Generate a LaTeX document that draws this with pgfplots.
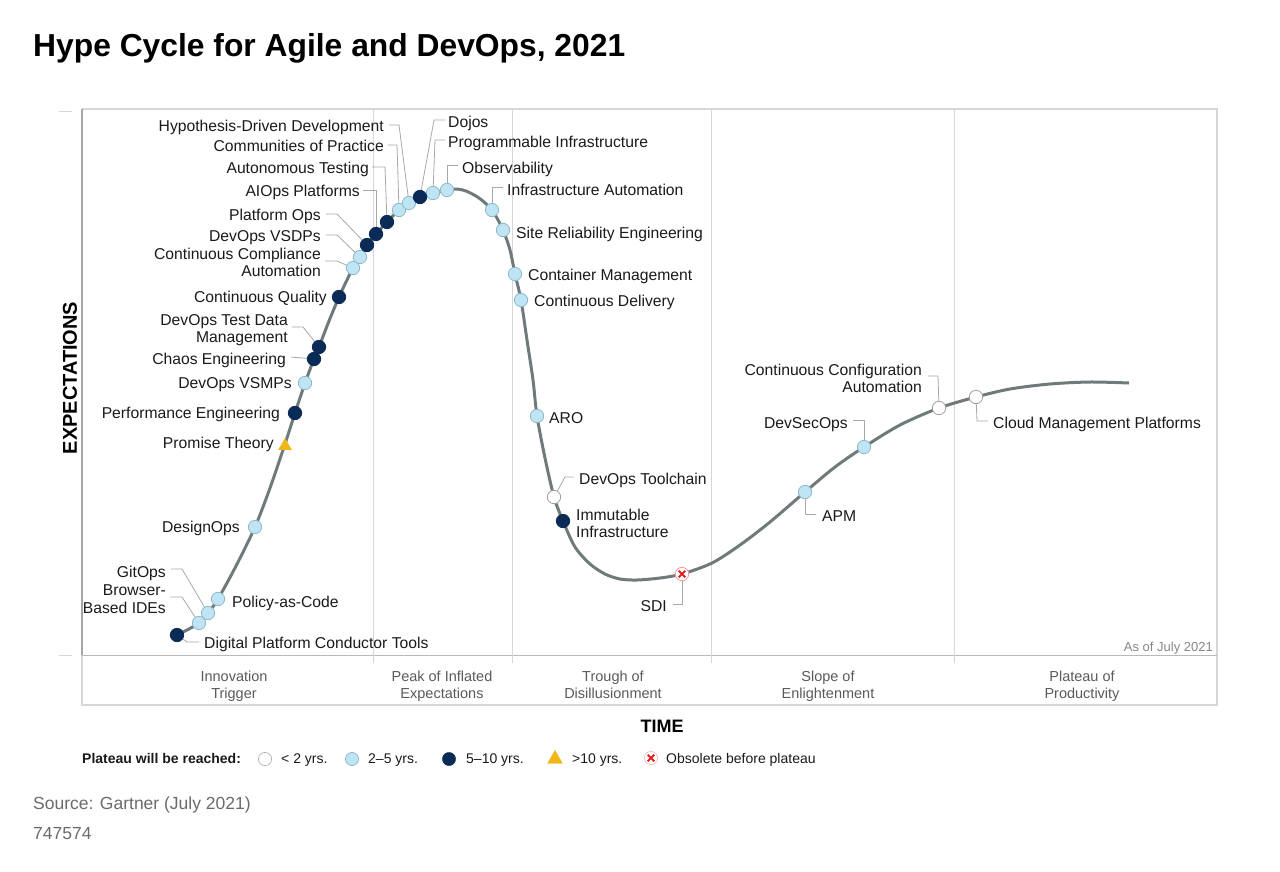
\documentclass[border=0pt]{standalone}
\usepackage{pgfplots}
\pgfplotsset{compat=1.18}
\usepackage{fontspec}
\setmainfont{Liberation Sans}
\definecolor{curvec}{HTML}{6F7B7A}
\definecolor{lightm}{HTML}{BFE4F3}
\definecolor{lightd}{HTML}{8FB9CB}
\definecolor{darkm}{HTML}{0B2B57}
\definecolor{leaderc}{HTML}{A8A8A8}
\definecolor{txt}{HTML}{1A1A1A}
\definecolor{phasec}{HTML}{5A5A5A}
\definecolor{framec}{HTML}{D6D6D6}
\definecolor{gold}{HTML}{F2B619}
\definecolor{redx}{HTML}{E42320}
\definecolor{srcc}{HTML}{6B6B6B}
\newcommand{\lbl}{\fontsize{15.7}{17}\selectfont}
\tikzset{
  lR/.style={anchor=base east, inner sep=0pt, font=\lbl, text=txt},
  lL/.style={anchor=base west, inner sep=0pt, font=\lbl, text=txt},
  ph/.style={anchor=base, inner sep=0pt, font=\fontsize{14.5}{16}\selectfont, text=phasec},
  ld/.style={leaderc, line width=0.8pt},
  lg/.style={anchor=base west, inner sep=0pt, font=\fontsize{14}{16}\selectfont, text=txt},
}
\begin{document}
\begin{tikzpicture}
\begin{axis}[
  scale only axis, width=1280pt, height=871pt,
  xmin=0, xmax=1280, ymin=0, ymax=871, y dir=reverse,
  hide axis, clip=false,
]
% frame
\draw[framec, line width=1.2pt] (82,109) -- (1217,109) -- (1217,705) -- (82,705) -- (82,655);
\draw[gray!70, line width=1.8pt] (82,109) -- (82,655);
\draw[gray!55, line width=1pt] (82,655) -- (1217,655);
\draw[framec, line width=1pt] (59,111) -- (72,111);
\draw[framec, line width=1pt] (59,655) -- (72,655);
\draw[framec, line width=1pt] (373,109) -- (373,663);
\draw[framec, line width=1pt] (512,109) -- (512,663);
\draw[framec, line width=1pt] (711,109) -- (711,663);
\draw[framec, line width=1pt] (954,109) -- (954,663);
% phase labels
\node[ph] at (234,681) {Innovation};
\node[ph] at (234,698) {Trigger};
\node[ph] at (442,681) {Peak of Inflated};
\node[ph] at (442,698) {Expectations};
\node[ph] at (613,681) {Trough of};
\node[ph] at (613,698) {Disillusionment};
\node[ph] at (828,681) {Slope of};
\node[ph] at (828,698) {Enlightenment};
\node[ph] at (1082,681) {Plateau of};
\node[ph] at (1082,698) {Productivity};
\node[anchor=base east, inner sep=0pt, font=\fontsize{13}{15}\selectfont, text=gray!95] at (1213,651) {As of July 2021};
% leaders
\draw[ld] (389,125) -- (399,125) -- (409,203);
\draw[ld] (388,145) -- (397,145) -- (399,210);
\draw[ld] (372,167) -- (385,167) -- (387,222);
\draw[ld] (363,190) -- (376,190) -- (376,234);
\draw[ld] (326,214) -- (337,214) -- (367,245);
\draw[ld] (326,235) -- (337,235) -- (360,257);
\draw[ld] (325,261) -- (337,261) -- (353,268);
\draw[ld] (292,327) -- (303,327) -- (319,347);
\draw[ld] (291,357) -- (314,359);
\draw[ld] (171,569) -- (182,569) -- (208,613);
\draw[ld] (170,597) -- (182,597) -- (199,623);
\draw[ld] (177,635) -- (187,642) -- (199,642);
\draw[ld] (445,120) -- (434,120) -- (420,197);
\draw[ld] (445,140) -- (435,140) -- (433,193);
\draw[ld] (458,165) -- (447,165) -- (447,190);
\draw[ld] (503,187) -- (492,187) -- (492,210);
\draw[ld] (574,477) -- (565,477) -- (554,497);
\draw[ld] (673,604) -- (682,604) -- (682,574);
\draw[ld] (805,492) -- (805,514) -- (816,514);
\draw[ld] (853,420) -- (864,420) -- (864,447);
\draw[ld] (928,376) -- (938,376) -- (939,408);
\draw[ld] (976,397) -- (977,421) -- (988,421);
% curve
\addplot[curvec, line width=3pt, smooth, tension=0.5] coordinates {
(176,635)(187,630)(199,623)(208,613)(218,599)(236,566)(255,527)(270,488)(285,444)(295,413)(305,383)(314,359)(319,347)(329,321)(339,297)(346,282)(353,268)(360,257)(367,245)(376,234)(387,222)(399,210)(409,203)(420,197)(433,193)(447,190)(456,189)(466,191)(479,198)(492,210)(503,230)(510,250)(515,274)(521,300)(527,340)(533,380)(537,416)(545,458)(554,497)(563,521)(575,547)(590,564)(605,574)(620,579)(637,580)(660,578)(682,574)(712,563)(740,545)(770,522)(805,492)(835,467)(864,447)(900,425)(939,408)(976,397)(1010,389)(1050,384)(1090,382)(1129,383)};
% markers: < 2 yrs
\addplot[only marks, mark=*, mark size=6.7pt, mark options={fill=white, draw=gray!75, line width=0.8pt}] coordinates {(554,497)(939,408)(976,397)};
% 2-5 yrs
\addplot[only marks, mark=*, mark size=6.7pt, mark options={fill=lightm, draw=lightd, line width=0.8pt}] coordinates {
(199,623)(208,613)(218,599)(255,527)(305,383)(353,268)(360,257)(399,210)(409,203)(433,193)(447,190)(492,210)(503,230)(515,274)(521,300)(537,416)(805,492)(864,447)};
% 5-10 yrs
\addplot[only marks, mark=*, mark size=6.7pt, mark options={fill=darkm, draw=darkm, line width=0.8pt}] coordinates {
(177,635)(295,413)(314,359)(319,347)(339,297)(367,245)(376,234)(387,222)(420,197)(563,521)};
% >10 yrs
\addplot[only marks, mark=triangle*, mark size=7.5pt, mark options={fill=gold, draw=gold}] coordinates {(285,446)};
% obsolete
\addplot[only marks, mark=*, mark size=6.7pt, mark options={fill=white, draw=redx!45, line width=0.8pt}] coordinates {(682,574)};
\addplot[only marks, mark=x, mark size=4.6pt, mark options={draw=redx, line width=1.8pt}] coordinates {(682,574)};
% labels
\node[lR] at (384,131.5) {Hypothesis-Driven Development};
\node[lR] at (384,151.5) {Communities of Practice};
\node[lR] at (369,173.5) {Autonomous Testing};
\node[lR] at (360,196.5) {AIOps Platforms};
\node[lR] at (321,220.5) {Platform Ops};
\node[lR] at (321,241.5) {DevOps VSDPs};
\node[lR] at (321,259.5) {Continuous Compliance};
\node[lR] at (321,276.5) {Automation};
\node[lR] at (327,302.5) {Continuous Quality};
\node[lR] at (288,325.5) {DevOps Test Data};
\node[lR] at (288,342.5) {Management};
\node[lR] at (286,364.5) {Chaos Engineering};
\node[lR] at (292,388.5) {DevOps VSMPs};
\node[lR] at (280,418.5) {Performance Engineering};
\node[lR] at (274,448.5) {Promise Theory};
\node[lR] at (240,532.5) {DesignOps};
\node[lR] at (166,577.5) {GitOps};
\node[lR] at (166,595.5) {Browser-};
\node[lR] at (166,613.5) {Based IDEs};
\node[lR] at (667,611.5) {SDI};
\node[lR] at (848,428.5) {DevSecOps};
\node[lR] at (922,375.5) {Continuous Configuration};
\node[lR] at (922,392.5) {Automation};
\node[lL] at (448,127.5) {Dojos};
\node[lL] at (448,147.5) {Programmable Infrastructure};
\node[lL] at (462,173.5) {Observability};
\node[lL] at (507,195.5) {Infrastructure Automation};
\node[lL] at (516,238.5) {Site Reliability Engineering};
\node[lL] at (528,280.5) {Container Management};
\node[lL] at (534,306.5) {Continuous Delivery};
\node[lL] at (549,423.5) {ARO};
\node[lL] at (579,484.5) {DevOps Toolchain};
\node[lL] at (576,520.5) {Immutable};
\node[lL] at (576,537.5) {Infrastructure};
\node[lL] at (232,607.5) {Policy-as-Code};
\node[lL] at (204,648.5) {Digital Platform Conductor Tools};
\node[lL] at (822,521.5) {APM};
\node[lL] at (993,428.5) {Cloud Management Platforms};
% axis titles
\node[rotate=90, font=\bfseries\fontsize{20}{22}\selectfont, text=black, inner sep=0pt] at (70,378) {EXPECTATIONS};
\node[font=\bfseries\fontsize{18}{20}\selectfont, text=black, inner sep=0pt] at (662,726) {TIME};
% title
\node[anchor=base west, inner sep=0pt, font=\bfseries\fontsize{31.8}{34}\selectfont, text=black] at (33,56) {Hype Cycle for Agile and DevOps, 2021};
% legend
\node[lg, font=\bfseries\fontsize{14}{16}\selectfont] at (82,763) {Plateau will be reached:};
\addplot[only marks, mark=*, mark size=6.6pt, mark options={fill=white, draw=gray!60, line width=0.7pt}] coordinates {(265,759)};
\node[lg] at (281,763) {< 2 yrs.};
\addplot[only marks, mark=*, mark size=6.6pt, mark options={fill=lightm, draw=lightd, line width=0.7pt}] coordinates {(352,759)};
\node[lg] at (368,763) {2–5 yrs.};
\addplot[only marks, mark=*, mark size=6.6pt, mark options={fill=darkm, draw=darkm}] coordinates {(449,759)};
\node[lg] at (466,763) {5–10 yrs.};
\addplot[only marks, mark=triangle*, mark size=8.5pt, mark options={fill=gold, draw=gold}] coordinates {(555,759)};
\node[lg] at (572,763) {>10 yrs.};
\addplot[only marks, mark=*, mark size=6.6pt, mark options={fill=white, draw=redx!30, line width=0.7pt}] coordinates {(651,758)};
\addplot[only marks, mark=x, mark size=4.6pt, mark options={draw=redx, line width=2pt}] coordinates {(651,758)};
\node[lg] at (666,763) {Obsolete before plateau};
% source
\node[anchor=base west, inner sep=0pt, font=\fontsize{17.5}{20}\selectfont, text=srcc] at (33,809) {Source: Gartner (July 2021)};
\node[anchor=base west, inner sep=0pt, font=\fontsize{17.5}{20}\selectfont, text=srcc] at (33,839) {747574};
\end{axis}
\pgfresetboundingbox
\path[use as bounding box] (current axis.south west) rectangle (current axis.north east);
\end{tikzpicture}
\end{document}
